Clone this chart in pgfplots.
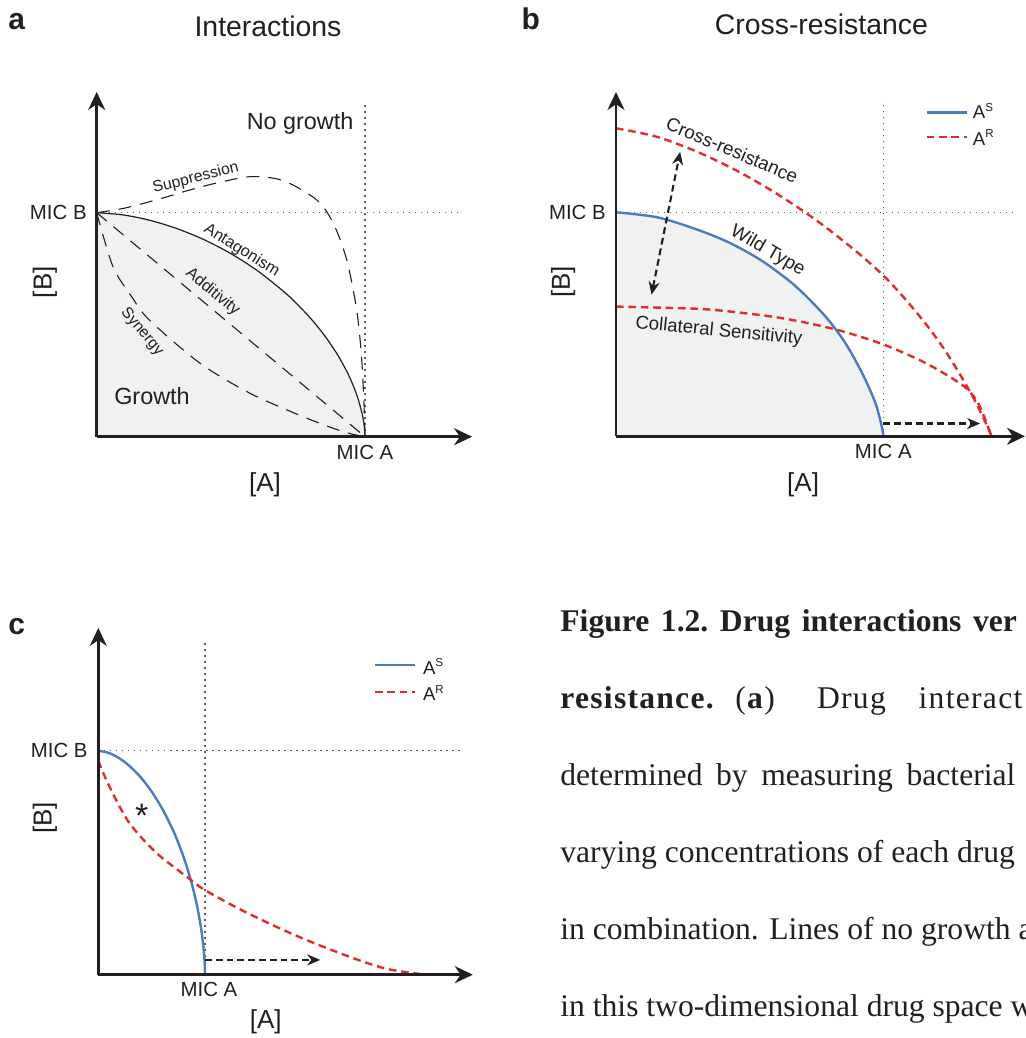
\documentclass[border=0pt]{standalone}
\usepackage{fontspec}
\setmainfont{Liberation Sans}
\newfontfamily\capfont{Liberation Serif}
\newfontfamily\capfontls[LetterSpace=4]{Liberation Serif}
\usepackage{pgfplots}
\usepackage{pgfplotstable}
\pgfplotsset{compat=1.18}
\usetikzlibrary{arrows.meta}

\definecolor{ink}{RGB}{35,31,32}
\definecolor{growth}{RGB}{240,242,242}
\definecolor{wtblue}{RGB}{75,126,184}
\definecolor{resred}{RGB}{222,45,45}
\definecolor{dotgray}{RGB}{90,90,90}

\newcommand\fsz[1]{\fontsize{#1}{#1}\selectfont}
\newcommand\supr[1]{\raisebox{3.6pt}{\fontsize{5.8pt}{6pt}\selectfont #1}}

% isobole of the sensitive strain (antagonism in a, A^S in c)
\pgfplotstableread{
x y
0 1
0.1 0.9898
0.2 0.9654
0.3 0.9286
0.4 0.8796
0.5 0.8174
0.6 0.7404
0.7 0.6451
0.75 0.5886
0.8 0.5246
0.85 0.4503
0.9 0.3613
0.94 0.2723
0.97 0.1844
0.99 0.0989
0.998 0.0395
1 0
}\antag

% panel b: wild type (A^S)
\pgfplotstableread{
x y
0 1
0.153 0.978
0.296 0.926
0.421 0.866
0.545 0.784
0.670 0.672
0.782 0.537
0.857 0.418
0.92 0.284
0.97 0.150
0.994 0.045
1 0
}\wildb

\tikzset{
  khead/.tip={Stealth[length=6.5pt,width=5.5pt]},
  refline/.style={dotgray, line width=0.6pt, dash pattern=on 0.6pt off 2.4pt},
  ldash/.style={ink, line width=0.55pt, dash pattern=on 6.5pt off 4.5pt},
  rdash/.style={resred, line width=1.2pt, dash pattern=on 3.8pt off 2.4pt},
  wt/.style={wtblue, line width=1.2pt},
  karrow/.style={ink, line width=1.05pt, dash pattern=on 3.4pt off 2pt},
  lbl/.style={ink, inner sep=0pt},
}
\pgfplotsset{panel/.style={anchor=origin, xmin=0, ymin=0, y=112pt,
  axis lines=left, axis on top,
  axis line style={ink, line width=1.25pt, -{Stealth[length=9pt,width=8.5pt]}},
  xtick=\empty, ytick=\empty, clip=false}}

\begin{document}
\begin{tikzpicture}
\useasboundingbox (0,0) rectangle (513pt,519pt);
\clip (0,0) rectangle (513pt,519pt);

% panel letters and titles
\node[lbl, anchor=base west, font=\bfseries\fsz{15pt}] at (4pt,504.35pt) {a};
\node[lbl, anchor=base west, font=\bfseries\fsz{15pt}] at (260.65pt,504.35pt) {b};
\node[lbl, anchor=base west, font=\bfseries\fsz{15pt}] at (4pt,201.5pt) {c};
\node[lbl, anchor=base, font=\fsz{14.2pt}] at (134pt,500.75pt) {Interactions};
\node[lbl, anchor=base, font=\fsz{14.2pt}] at (410.7pt,501.5pt) {Cross-resistance};

% ---------- a: interactions ----------
\begin{axis}[panel, at={(48.35pt,300.65pt)}, x=134.15pt, xmax=1.399, ymax=1.539]
\addplot[fill=growth, draw=none, smooth] table {\antag} \closedcycle;
\addplot[refline] coordinates {(1,0) (1,1.49)};
\addplot[refline] coordinates {(0,1) (1.354,1)};
\addplot[ink, line width=0.6pt, smooth] table {\antag};
% additivity
\addplot[ldash] coordinates {(0,1) (1,0)};
% synergy
\addplot[ldash, smooth] coordinates {(0,1) (0.025,0.893) (0.066,0.744) (0.132,0.622)
  (0.196,0.521) (0.385,0.328) (0.571,0.194) (0.77,0.089) (0.919,0.022) (1,0)};
% suppression
\addplot[ldash, smooth] coordinates {(0,1) (0.103,1.02) (0.23,1.06) (0.343,1.10)
  (0.442,1.131) (0.575,1.161) (0.695,1.143) (0.82,1.057) (0.882,0.952) (0.932,0.789)
  (0.969,0.566) (0.987,0.357) (0.996,0.15) (1,0)};
\node[lbl, anchor=east, font=\fsz{10.2pt}] at (axis cs:-0.036,1) {MIC B};
\node[lbl, font=\fsz{10.2pt}] at (axis cs:1,-0.07) {MIC A};
\node[lbl, font=\fsz{13pt}] at (axis cs:0.627,-0.216) {[A]};
\node[lbl, font=\fsz{13pt}, rotate=90] at (axis cs:-0.193,0.69) {[B]};
\node[lbl, anchor=base, font=\fsz{11.7pt}] at (axis cs:0.758,1.372) {No growth};
\node[lbl, anchor=base, font=\fsz{11.7pt}] at (axis cs:0.206,0.1415) {Growth};
\node[lbl, anchor=base, font=\fsz{7.9pt}, rotate=14] at (axis cs:0.373,1.136) {Suppression};
\node[lbl, anchor=base, font=\fsz{8.1pt}, rotate=-32] at (axis cs:0.532,0.815) {Antagonism};
\node[lbl, anchor=base, font=\fsz{8.1pt}, rotate=-40] at (axis cs:0.422,0.632) {Additivity};
\node[lbl, anchor=base, font=\fsz{7.8pt}, rotate=-50] at (axis cs:0.158,0.458) {Synergy};
\end{axis}

% ---------- b: cross-resistance ----------
\begin{axis}[panel, at={(308pt,300.85pt)}, x=133.65pt, xmax=1.53, ymax=1.537]
\addplot[fill=growth, draw=none, smooth] table {\wildb} \closedcycle;
\addplot[refline] coordinates {(1,0) (1,1.5)};
\addplot[refline] coordinates {(0,1) (1.50,1)};
\addplot[wt, smooth] table {\wildb};
% cross-resistant mutant
\addplot[rdash, smooth] coordinates {(0,1.375) (0.15,1.338) (0.3,1.272) (0.45,1.187)
  (0.6,1.084) (0.75,0.964) (0.9,0.824) (1.0,0.718) (1.08,0.615) (1.16,0.50) (1.23,0.385)
  (1.29,0.27) (1.34,0.165) (1.375,0.08) (1.395,0.03) (1.405,0)};
% collaterally sensitive mutant
\addplot[rdash, smooth] coordinates {(0,0.579) (0.2,0.573) (0.359,0.565) (0.607,0.53)
  (0.818,0.478) (1.0,0.41) (1.16,0.326) (1.287,0.236) (1.33,0.19) (1.362,0.131) (1.405,0)};
\addplot[karrow, {khead}-{khead}] coordinates {(0.133,0.632) (0.24,1.27)};
\addplot[karrow, -{khead}] coordinates {(1.0,0.057) (1.362,0.057)};
% legend
\addplot[wt] coordinates {(1.162,1.446) (1.312,1.446)};
\addplot[rdash] coordinates {(1.162,1.335) (1.312,1.335)};
\node[lbl, anchor=base west, font=\fsz{9.3pt}] at (axis cs:1.334,1.42) {A\supr{S}};
\node[lbl, anchor=base west, font=\fsz{9.3pt}] at (axis cs:1.334,1.30) {A\supr{R}};
\node[lbl, anchor=east, font=\fsz{10.2pt}] at (axis cs:-0.037,1) {MIC B};
\node[lbl, font=\fsz{10.2pt}] at (axis cs:1,-0.07) {MIC A};
\node[lbl, font=\fsz{13pt}] at (axis cs:0.70,-0.218) {[A]};
\node[lbl, font=\fsz{13pt}, rotate=90] at (axis cs:-0.198,0.69) {[B]};
\node[lbl, anchor=base, font=\fsz{9.4pt}, rotate=-23] at (axis cs:0.425,1.25) {Cross-resistance};
\node[lbl, anchor=base, font=\fsz{9.4pt}, rotate=-30] at (axis cs:0.558,0.808) {Wild Type};
\node[lbl, anchor=base, font=\fsz{9.3pt}, rotate=-5.5] at (axis cs:0.383,0.447) {Collateral Sensitivity};
\end{axis}

% ---------- c ----------
\begin{axis}[panel, at={(49.15pt,31.65pt)}, x=53.35pt, xmax=3.51, ymax=1.548]
\addplot[refline] coordinates {(1,0) (1,1.494)};
\addplot[refline] coordinates {(0,1) (3.42,1)};
\addplot[wt, smooth] table {\antag};
\addplot[rdash, smooth] coordinates {(0,0.955) (0.1,0.844) (0.287,0.680) (0.537,0.547)
  (0.835,0.435) (1.006,0.376) (1.382,0.279) (1.851,0.175) (2.32,0.086) (2.695,0.027) (3.07,0)};
\addplot[karrow, -{khead}] coordinates {(1.0,0.066) (2.08,0.066)};
\addplot[wt] coordinates {(2.593,1.383) (2.968,1.383)};
\addplot[rdash] coordinates {(2.593,1.262) (2.968,1.262)};
\node[lbl, anchor=base west, font=\fsz{9.3pt}] at (axis cs:3.04,1.342) {A\supr{S}};
\node[lbl, anchor=base west, font=\fsz{9.3pt}] at (axis cs:3.04,1.223) {A\supr{R}};
\node[lbl, anchor=east, font=\fsz{10.2pt}] at (axis cs:-0.0965,1) {MIC B};
\node[lbl, font=\fsz{10.2pt}] at (axis cs:1.037,-0.064) {MIC A};
\node[lbl, font=\fsz{13pt}] at (axis cs:1.57,-0.211) {[A]};
\node[lbl, font=\fsz{13pt}, rotate=90] at (axis cs:-0.5,0.70) {[B]};
\node[lbl, anchor=base, font=\fsz{17pt}] at (axis cs:0.407,0.656) {*};
\end{axis}

% ---------- caption (cut at the page edge) ----------
\begin{scope}[every node/.style={lbl, anchor=base west}]
\node[font=\capfont\bfseries\fsz{15.8pt}] at (280pt,203.15pt)
  {\spaceskip=5.8pt\xspaceskip=5.8pt Figure 1.2. Drug interactions ver};
\node[font=\capfontls\bfseries\fsz{15.8pt}] at (280pt,164.65pt) {resistance.};
\node[font=\capfontls\fsz{15.8pt}] at (367.5pt,164.65pt) {(\textbf{a})};
\node[font=\capfontls\fsz{15.8pt}] at (408.35pt,164.65pt) {Drug};
\node[font=\capfontls\fsz{15.8pt}] at (459.15pt,164.65pt) {interact};
\node[font=\capfont\fsz{15.8pt}] at (280pt,126.15pt)
  {\spaceskip=6.8pt\xspaceskip=6.8pt determined by measuring bacterial};
\node[font=\capfont\fsz{15.8pt}] at (280pt,87.65pt) {varying concentrations of each drug};
\node[font=\capfont\fsz{15.8pt}] at (280pt,49.15pt) {in combination. Lines of no growth are};
\node[font=\capfont\fsz{15.8pt}] at (280pt,10.65pt) {in this two-dimensional drug space were};
\end{scope}
\end{tikzpicture}
\end{document}
